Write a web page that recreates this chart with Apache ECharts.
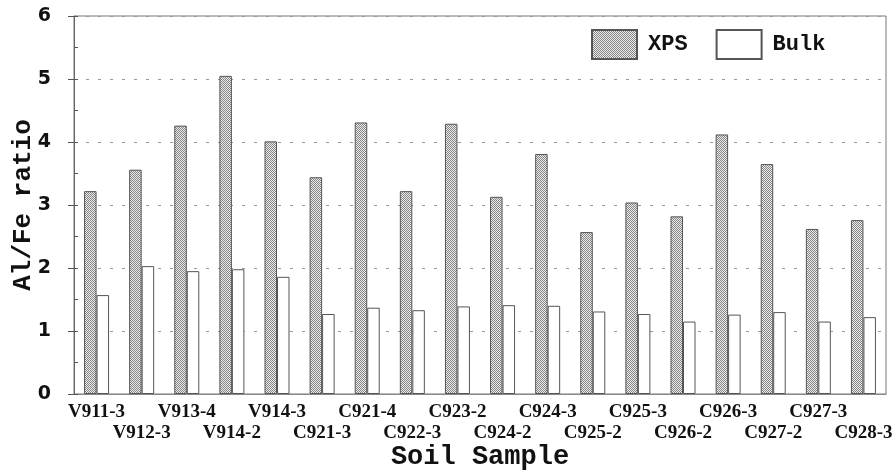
<!DOCTYPE html>
<html>
<head>
<meta charset="utf-8">
<script src="https://cdn.jsdelivr.net/npm/echarts@6/dist/echarts.min.js"></script>
<style>html,body{margin:0;padding:0;background:#fff;}#c{width:895px;height:470px;}</style>
</head>
<body>
<div id="c"></div>
<script>
const categories = ['V911-3','V912-3','V913-4','V914-2','V914-3','C921-3','C921-4','C922-3','C923-2','C924-2','C924-3','C925-2','C925-3','C926-2','C926-3','C927-2','C927-3','C928-3'];
const xpsValues = [3.22,3.56,4.26,5.05,4.01,3.44,4.31,3.22,4.29,3.13,3.81,2.57,3.04,2.82,4.12,3.65,2.62,2.76];
const bulkValues = [1.57,2.03,1.95,1.98,1.86,1.27,1.37,1.33,1.39,1.41,1.40,1.31,1.27,1.15,1.26,1.30,1.15,1.22];
const yTicks = [0,1,2,3,4,5,6];

function makePattern(){
  const cv = document.createElement('canvas');
  cv.width = 2; cv.height = 2;
  const ctx = cv.getContext('2d');
  ctx.fillStyle = '#ececec'; ctx.fillRect(0,0,2,2);
  ctx.fillStyle = '#858585'; ctx.fillRect(0,0,1,1); ctx.fillRect(1,1,1,1);
  return cv;
}
const pattern = {image: makePattern(), repeat: 'repeat'};

const chart = echarts.init(document.getElementById('c'), null, {renderer:'canvas'});
chart.setOption({
  animation: false,
  backgroundColor: '#fff',
  grid: {left: 74, right: 9, top: 16, bottom: 76, show: true, borderColor: '#777', borderWidth: 1,
    backgroundColor: 'transparent', outerBoundsMode: 'none', containLabel: false},
  legend: {
    left: 586, top: 24, itemWidth: 45, itemHeight: 29, itemGap: 28, icon: 'rect',
    textStyle: {fontFamily: 'Liberation Mono', fontWeight: 'bold', fontSize: 22, color: '#111', padding: [0,0,0,6]},
    data: ['XPS','Bulk']
  },
  xAxis: {
    type: 'category', data: categories,
    name: 'Soil Sample', nameLocation: 'middle', nameGap: 50, nameMoveOverlap: false,
    nameTextStyle: {fontFamily: 'Liberation Mono', fontWeight: 'bold', fontSize: 27, color: '#111'},
    axisLine: {lineStyle: {color: '#888', width: 1}},
    axisTick: {show: false},
    axisLabel: {
      interval: 0, margin: 8, fontFamily: 'Liberation Serif', fontWeight: 'bold', fontSize: 19, color: '#111', lineHeight: 21,
      formatter: (v, i) => (i % 2 ? '\n' + v : v)
    },
    splitLine: {show: false}
  },
  yAxis: [{
    type: 'value', min: 0, max: 6, interval: 1,
    name: 'Al/Fe ratio', nameLocation: 'middle', nameGap: 38, nameMoveOverlap: false,
    nameTextStyle: {fontFamily: 'Liberation Mono', fontWeight: 'bold', fontSize: 26, color: '#111'},
    axisLine: {show: true, lineStyle: {color: '#666', width: 1}},
    axisTick: {show: true, length: 6, lineStyle: {color: '#555'}},
    axisLabel: {margin: 23, fontFamily: 'DejaVu Sans', fontWeight: 'bold', fontSize: 19, color: '#111',
      formatter: v => (yTicks.indexOf(v) >= 0 ? String(v) : '')},
    splitLine: {show: true, lineStyle: {color: '#999', type: [3,9], width: 1}}
  },{
    type: 'value', min: 0, max: 6, interval: 0.5, position: 'left', offset: 0,
    axisLine: {show: false},
    axisTick: {show: true, inside: true, length: 4, lineStyle: {color: '#555'}},
    axisLabel: {show: false},
    splitLine: {show: false}
  }],
  series: [{
    name: 'XPS', type: 'bar', data: xpsValues, barWidth: 12.5, barGap: '0%',
    itemStyle: {color: pattern, borderColor: '#555', borderWidth: 1}
  },{
    name: 'Bulk', type: 'bar', data: bulkValues, barWidth: 12.5, barGap: '0%',
    itemStyle: {color: '#fff', borderColor: '#555', borderWidth: 1}
  }]
});
</script>
</body>
</html>
